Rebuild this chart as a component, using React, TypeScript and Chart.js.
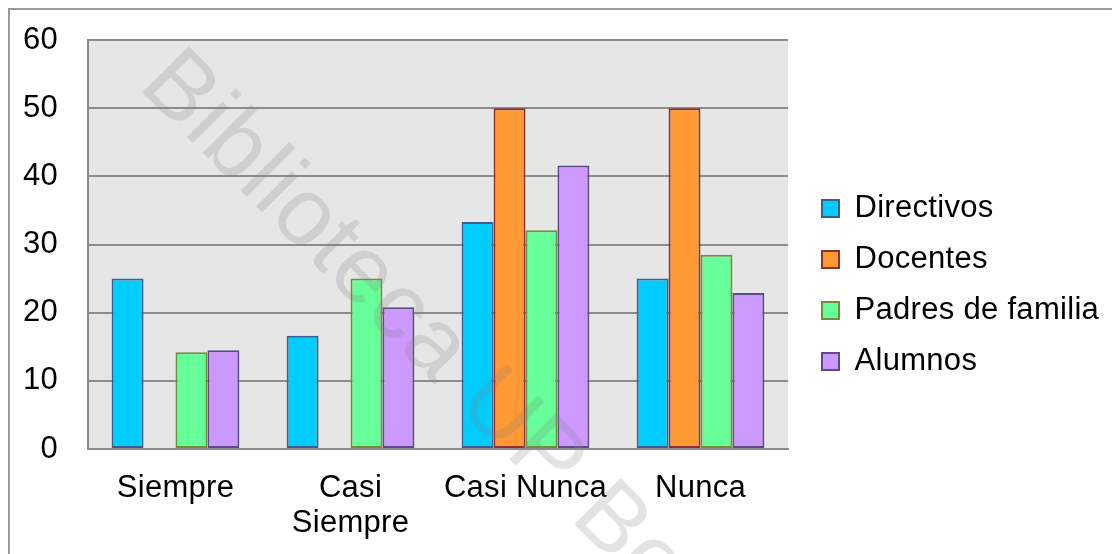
import React, { useEffect, useRef } from 'react';
import { Chart, registerables } from 'chart.js';

Chart.register(...registerables);

// ---- data ----
const categories: (string | string[])[] = ['Siempre', ['Casi', 'Siempre'], 'Casi Nunca', 'Nunca'];
const seriesNames = ['Directivos', 'Docentes', 'Padres de familia', 'Alumnos'];
const directivos = [25, 16.6, 33.3, 25];
const docentes = [0, 0, 50, 50];
const padres = [14.2, 25, 32.1, 28.5];
const alumnos = [14.5, 20.8, 41.6, 22.9];
const yTicks = [0, 10, 20, 30, 40, 50, 60];
const WATERMARK = 'Biblioteca UP Bo';

// ---- styles ----
const fills = ['#00CCFF', '#FF9933', '#66FF99', '#CC99FF'];
const borders = ['#3D5F8F', '#8E3030', '#6F8F3A', '#5F4A88'];
const FONT_FAMILY = '"Liberation Sans", Arial, sans-serif';
const FONT_SIZE = 31;
const LETTER_SPACING = '0.3px';
const GRID = '#8c8c8c';

const spacingPlugin = {
  id: 'spacing',
  beforeUpdate(chart: any) { chart.ctx.letterSpacing = LETTER_SPACING; },
  beforeLayout(chart: any) { chart.ctx.letterSpacing = LETTER_SPACING; },
  beforeDraw(chart: any) { chart.ctx.letterSpacing = LETTER_SPACING; },
};

const bgPlugin = {
  id: 'plotBg',
  beforeDraw(chart: any) {
    const { ctx, chartArea } = chart;
    ctx.save();
    ctx.fillStyle = '#e6e6e6';
    ctx.fillRect(chartArea.left, chartArea.top, chartArea.right - chartArea.left, chartArea.bottom - chartArea.top);
    ctx.restore();
  },
};

const LEGEND_WIDTH = 332;
const LEGEND_SHIFT_X = 14;
const LEGEND_SHIFT_Y = 3;
const legendPlugin = {
  id: 'legendFix',
  afterInit(chart: any) {
    const leg = chart.legend;
    if (!leg) return;
    const orig = leg.fit.bind(leg);
    leg.fit = () => { orig(); leg.width = LEGEND_WIDTH; };
  },
  afterLayout(chart: any) {
    const leg = chart.legend;
    if (!leg) return;
    leg.left += LEGEND_SHIFT_X;
    leg.right += LEGEND_SHIFT_X;
    leg.top += LEGEND_SHIFT_Y;
    leg.bottom += LEGEND_SHIFT_Y;
  },
};

const watermarkPlugin = {
  id: 'watermark',
  afterDraw(chart: any) {
    const { ctx } = chart;
    ctx.save();
    ctx.letterSpacing = '1px';
    ctx.translate(127, 77);
    ctx.rotate(Math.PI / 4);
    ctx.font = `95px ${FONT_FAMILY}`;
    ctx.fillStyle = 'rgba(128,128,128,0.22)';
    ctx.textBaseline = 'alphabetic';
    ctx.textAlign = 'left';
    ctx.fillText(WATERMARK, 0, 0);
    ctx.restore();
  },
};

export default function App() {
  const ref = useRef<HTMLCanvasElement | null>(null);

  useEffect(() => {
    document.documentElement.style.overflow = 'hidden';
    document.body.style.overflow = 'hidden';
    const canvas = ref.current;
    if (!canvas) return;
    const series = [directivos, docentes, padres, alumnos];
    const font = { family: FONT_FAMILY, size: FONT_SIZE, lineHeight: 1.13 };
    const chart = new Chart(canvas, {
      type: 'bar',
      data: {
        labels: categories as any,
        datasets: series.map((d, i) => ({
          label: seriesNames[i],
          data: d,
          backgroundColor: fills[i],
          borderColor: borders[i],
          borderWidth: 2,
          borderSkipped: false,
          categoryPercentage: 0.73,
          barPercentage: 1,
        })),
      },
      options: {
        responsive: false,
        animation: false,
        devicePixelRatio: 1,
        layout: { padding: 0 },
        plugins: {
          legend: {
            position: 'right',
            labels: {
              font,
              color: '#000',
              boxWidth: 17,
              boxHeight: 17,
              padding: 20,
            },
          },
          tooltip: { enabled: false },
          title: { display: false },
        },
        scales: {
          x: {
            grid: { display: false, drawTicks: false },
            border: { display: true, color: GRID, width: 2 },
            ticks: { font, color: '#000', padding: 22, maxRotation: 0, autoSkip: false },
            afterFit: (s: any) => { s.height = 105; s.paddingLeft = 0; s.paddingRight = 0; },
          },
          y: {
            min: yTicks[0],
            max: yTicks[yTicks.length - 1],
            ticks: { stepSize: 10, font, color: '#000', padding: 30 },
            grid: { color: GRID, lineWidth: 2, drawTicks: false },
            border: { display: true, color: GRID, width: 2 },
            afterFit: (s: any) => { s.width = 78; s.paddingTop = 30; s.paddingBottom = 0; },
          },
        },
      } as any,
      plugins: [spacingPlugin, bgPlugin, legendPlugin, watermarkPlugin],
    });
    return () => chart.destroy();
  }, []);

  return (
    <div
      style={{
        position: 'relative',
        width: 1112,
        height: 546,
        boxSizing: 'border-box',
        borderTop: '2px solid #9a9a9a',
        borderLeft: '2px solid #9a9a9a',
        overflow: 'hidden',
      }}
    >
      <canvas ref={ref} width={1110} height={544} style={{ position: 'absolute', left: 0, top: 0, display: 'block' }} />
    </div>
  );
}
